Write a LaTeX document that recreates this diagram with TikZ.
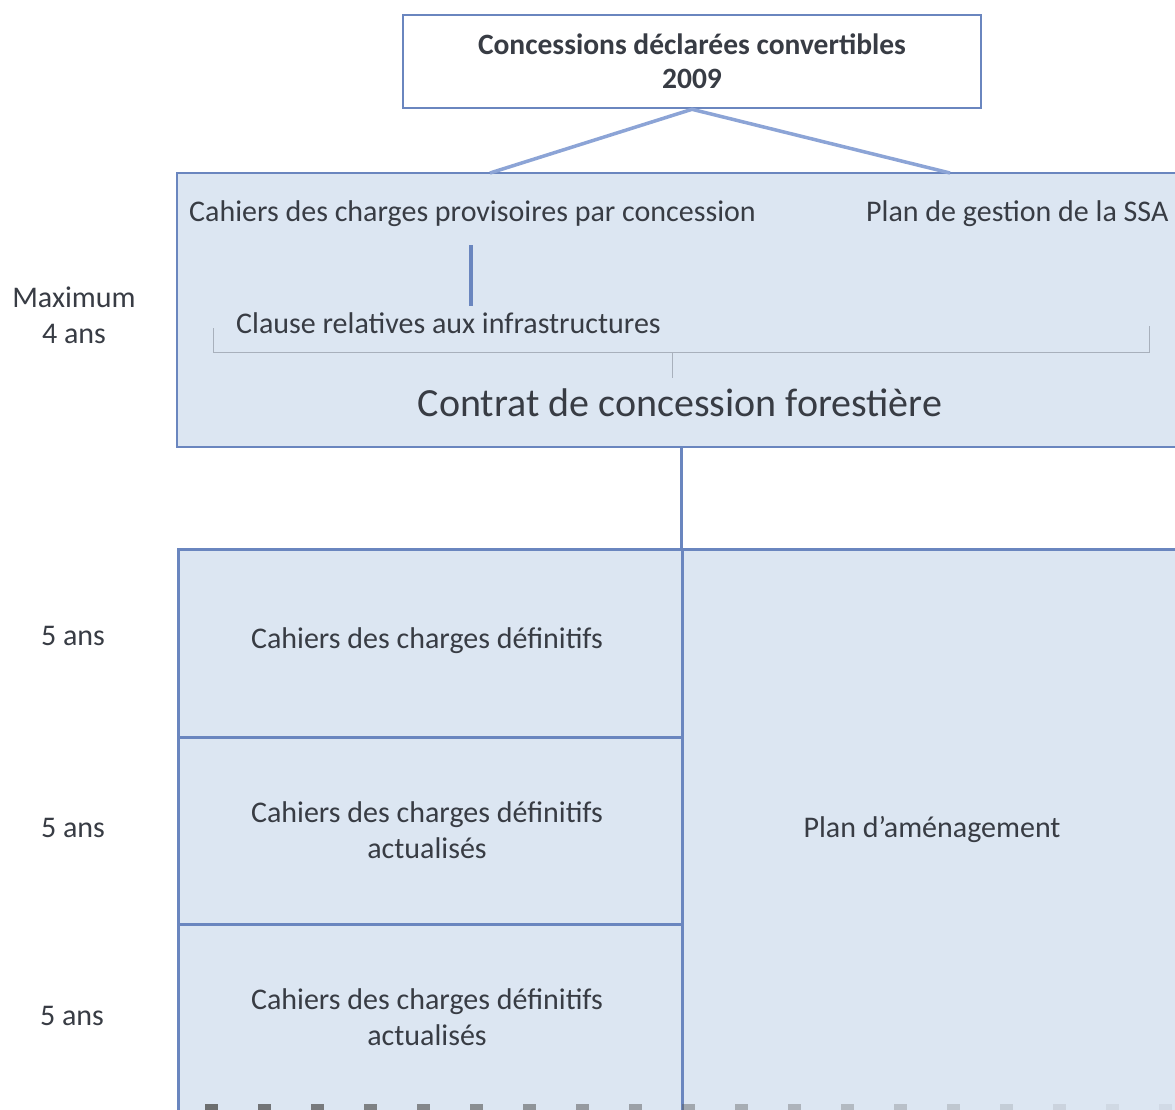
\documentclass[tikz,border=0pt]{standalone}
\usepackage{fontspec}
\setmainfont{Carlito}
\definecolor{bordc}{HTML}{6A86BF}
\definecolor{linec}{HTML}{8CA4D6}
\definecolor{fillc}{HTML}{DCE6F2}
\definecolor{txtc}{HTML}{383C44}
\definecolor{brk}{HTML}{A8B0BC}
\tikzset{
  boxstyle/.style={draw=bordc, line width=2.6pt, fill=fillc, inner sep=0pt},
  topbox/.style={draw=bordc, line width=2.6pt, fill=white, inner sep=0pt, align=center, font=\fontsize{29.5}{34}\selectfont\bfseries, text=txtc},
  lbl/.style={font=\fontsize{30}{36}\selectfont, text=txtc, align=center, inner sep=0pt},
  conn/.style={draw=linec, line width=3.5pt},
  brack/.style={draw=brk, line width=1pt},
}
\begin{document}
\begin{tikzpicture}[x=1pt,y=-1pt]
\path[use as bounding box, clip] (0,0) rectangle (1175,1110);
\fill[white] (0,0) rectangle (1175,1110);
% top box
\node[topbox, minimum width=578pt, minimum height=93pt] (top) at (692,61.5) {Concessions déclarées convertibles\\2009};
% big box
\node[boxstyle, minimum width=1013pt, minimum height=274pt] (big) at (683.5,310) {};
\coordinate (bl) at (490,173);
\coordinate (br) at (950,173);
\draw[conn] (bl) -- (top.south) -- (br);
\node[lbl, anchor=west] (prov) at (189,214) {Cahiers des charges provisoires par concession};
\node[lbl, anchor=west] (ssa) at (866,214) {Plan de gestion de la SSA};
\coordinate (pv1) at (471,245);
\coordinate (pv2) at (471,306);
\draw[conn, draw=bordc] (pv1) -- (pv2);
\node[lbl, anchor=west] (clause) at (236,323) {Clause relatives aux infrastructures};
\draw[brack] (213,328) -- (213,352) -- (1149,352) -- (1149,326);
\coordinate (bm1) at (672,352);
\coordinate (bm2) at (672,378);
\draw[brack] (bm1) -- (bm2);
\node[lbl, font=\fontsize{40}{44}\selectfont] (contrat) at (680,403) {Contrat de concession forestière};
% bottom boxes
\node[boxstyle, minimum width=504pt, minimum height=188pt, anchor=north west] (c1) at (177,548) {};
\node[boxstyle, minimum width=504pt, minimum height=187pt, anchor=north west] (c2) at (177,736) {};
\node[boxstyle, minimum width=504pt, minimum height=195pt, anchor=north west] (c3) at (177,923) {};
\node[boxstyle, minimum width=510pt, minimum height=570pt, anchor=north west] (pa) at (681,548) {};
\draw[conn, draw=bordc, line width=3pt] (pa.north west |- big.south) -- (pa.north west);
\node[lbl] at (427,641) {Cahiers des charges définitifs};
\node[lbl] at (427,830) {Cahiers des charges définitifs\\actualisés};
\node[lbl] at (427,1017) {Cahiers des charges définitifs\\actualisés};
\node[lbl] at (932,829) {Plan d’aménagement};
% left labels
\node[lbl] at (74,315) {Maximum\\4 ans};
\node[lbl] at (73,636) {5 ans};
\node[lbl] at (73,828) {5 ans};
\node[lbl] at (72,1016) {5 ans};
% bottom squares
\foreach \i in {0,...,18} {
  \pgfmathsetmacro{\op}{max(0.08,0.85-0.045*\i)}
  \fill[gray!70!black, opacity=\op] (205+53*\i,1104) rectangle ++(13,8);
}
\end{tikzpicture}
\end{document}
